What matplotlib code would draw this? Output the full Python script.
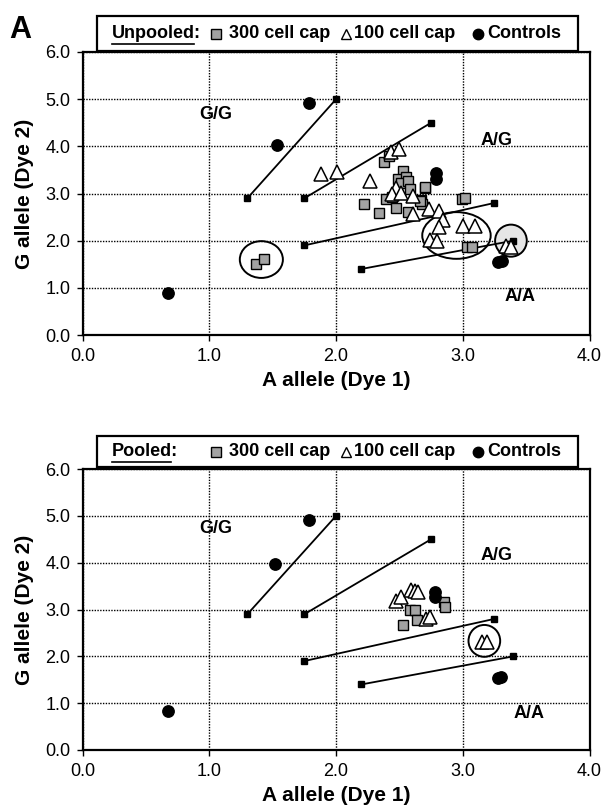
import matplotlib
matplotlib.use("Agg")
import matplotlib.pyplot as plt
from matplotlib.patches import Ellipse, Rectangle
from matplotlib.lines import Line2D

plt.rcParams['font.family'] = ['Liberation Sans', 'DejaVu Sans']

# ---------------- data ----------------
# calibration lines (shared by both panels): start / end points
line_x0 = [1.30, 1.75, 1.75, 2.20]
line_y0 = [2.90, 2.90, 1.90, 1.40]
line_x1 = [2.00, 2.75, 3.25, 3.40]
line_y1 = [5.00, 4.50, 2.80, 2.00]

# Unpooled panel
un_sq_x = [2.38, 2.42, 2.53, 2.49, 2.55, 2.51, 2.57, 2.58, 2.70, 2.39, 2.44, 2.22, 2.34,
           2.47, 2.57, 2.67, 2.68, 2.66, 2.70, 2.99, 3.02, 3.03, 3.07, 1.37, 1.43]
un_sq_y = [3.67, 3.80, 3.48, 3.31, 3.34, 3.22, 3.27, 3.09, 3.11, 2.88, 2.92, 2.78, 2.58,
           2.70, 2.61, 2.87, 2.78, 2.85, 3.13, 2.88, 2.91, 1.86, 1.87, 1.51, 1.62]
un_tr_x = [1.88, 2.01, 2.27, 2.43, 2.50, 2.47, 2.44, 2.51, 2.61, 2.61, 2.73, 2.81, 2.84,
           2.81, 2.74, 2.80, 3.00, 3.10, 3.34, 3.38]
un_tr_y = [3.41, 3.46, 3.27, 3.88, 3.94, 3.12, 2.99, 3.02, 2.95, 2.57, 2.67, 2.62, 2.43,
           2.29, 2.02, 1.99, 2.32, 2.32, 1.88, 1.87]
un_ct_x = [1.79, 1.53, 2.79, 2.79, 3.28, 3.31, 0.67]
un_ct_y = [4.92, 4.02, 3.44, 3.30, 1.55, 1.57, 0.88]

# Pooled panel
po_sq_x = [2.58, 2.62, 2.64, 2.53, 2.85, 2.86]
po_sq_y = [2.99, 2.98, 2.77, 2.67, 3.17, 3.06]
po_tr_x = [2.47, 2.51, 2.59, 2.62, 2.65, 2.71, 2.74, 3.15, 3.19]
po_tr_y = [3.19, 3.26, 3.42, 3.40, 3.37, 2.80, 2.83, 2.30, 2.30]
po_ct_x = [1.79, 1.52, 0.67, 2.78, 2.78, 3.28, 3.30]
po_ct_y = [4.91, 3.98, 0.83, 3.38, 3.27, 1.54, 1.56]

ticks = [0.0, 1.0, 2.0, 3.0, 4.0, 5.0, 6.0]
region_labels = ["G/G", "A/G", "A/A"]
un_lab_x = [1.05, 3.27, 3.45]
un_lab_y = [4.68, 4.13, 0.82]
po_lab_x = [1.05, 3.27, 3.52]
po_lab_y = [4.72, 4.15, 0.78]

legend_items = ["300 cell cap", "100 cell cap", "Controls"]

# ---------------- figure ----------------
W, H = 604, 810
fig = plt.figure(figsize=(W / 100, H / 100), dpi=100)
fig.patch.set_facecolor('white')


def fx(x):
    return x / W


def fy(y):
    return 1 - y / H


SQ_FC = '#a3a3a3'


def panel(top, bottom, sx, sy, tx, ty, cx, cy, lx, ly, ellipses):
    ax = fig.add_axes([fx(82.7), fy(bottom), (589.5 - 82.7) / W, (bottom - top) / H])
    ax.set_xlim(0, 4)
    ax.set_ylim(0, 6)
    ax.set_xticks(ticks[:5])
    ax.set_yticks(ticks)
    ax.set_xticklabels([f"{t:.1f}" for t in ticks[:5]], fontsize=13)
    ax.set_yticklabels([f"{t:.1f}" for t in ticks], fontsize=13)
    ax.tick_params(direction='out', length=4, width=1, pad=5)
    ax.grid(True, color='black', linestyle=(0, (1, 1)), linewidth=1)
    ax.set_axisbelow(True)
    for s in ax.spines.values():
        s.set_linewidth(1.6)
    ax.set_xlabel("A allele (Dye 1)", fontsize=15, fontweight='bold', labelpad=5)
    ax.set_ylabel("G allele (Dye 2)", fontsize=15, fontweight='bold', labelpad=8)

    for (ex, ey, ew, eh, fc) in ellipses:
        ax.add_patch(Ellipse((ex, ey), ew, eh, facecolor=fc, edgecolor='black',
                             linewidth=1.4, zorder=2))
    for x0, y0, x1, y1 in zip(line_x0, line_y0, line_x1, line_y1):
        ax.plot([x0, x1], [y0, y1], color='black', linewidth=1.3, marker='s',
                markersize=4.8, zorder=3)
    ax.plot(sx, sy, linestyle='none', marker='s', markersize=7.5, markerfacecolor=SQ_FC,
            markeredgecolor='black', markeredgewidth=1, zorder=4)
    ax.plot(tx, ty, linestyle='none', marker='^', markersize=9.5, markerfacecolor='white',
            markeredgecolor='black', markeredgewidth=1.1, zorder=5)
    ax.plot(cx, cy, linestyle='none', marker='o', markersize=8.2, markerfacecolor='black',
            markeredgecolor='black', zorder=6)
    for lab, x, y in zip(region_labels, lx, ly):
        ax.text(x, y, lab, fontsize=13, fontweight='bold', ha='center', va='center', zorder=7)
    return ax


un_ell = [(2.95, 2.11, 0.54, 0.99, 'none'),
          (3.38, 2.00, 0.25, 0.68, '#e6e6e6'),
          (1.41, 1.60, 0.34, 0.78, 'none')]
po_ell = [(3.17, 2.33, 0.25, 0.68, 'none')]

panel(52, 335, un_sq_x, un_sq_y, un_tr_x, un_tr_y, un_ct_x, un_ct_y, un_lab_x, un_lab_y, un_ell)
panel(469, 750, po_sq_x, po_sq_y, po_tr_x, po_tr_y, po_ct_x, po_ct_y, po_lab_x, po_lab_y, po_ell)

fig.text(fx(9), fy(30), "A", fontsize=22, fontweight='bold', ha='left', va='center')

renderer = fig.canvas.get_renderer()


def legend_box(title, top, bottom):
    rect = Rectangle((fx(97), fy(bottom)), (578 - 97) / W, (bottom - top) / H,
                     transform=fig.transFigure, facecolor='white', edgecolor='black',
                     linewidth=1.6, zorder=10)
    fig.add_artist(rect)
    yc = (top + bottom) / 2
    # measure width of the underlined word only
    tmp = fig.text(fx(112), fy(yc), title, fontsize=13, fontweight='bold',
                   ha='left', va='center')
    bb = tmp.get_window_extent(renderer)
    tmp.remove()
    fig.text(fx(112), fy(yc), title + ":", fontsize=13, fontweight='bold',
             ha='left', va='center', zorder=11)
    fig.add_artist(Line2D([bb.x0 / W, (bb.x1 - 1) / W], [(bb.y0 - 1.5) / H] * 2,
                          transform=fig.transFigure, color='black', linewidth=1.2, zorder=11))
    mk = [('s', 216, SQ_FC, 7), ('^', 346, 'white', 7), ('o', 478, 'black', 7.5)]
    txt_x = [229, 354, 487]
    for (m, mx, fc, ms), lab, tx in zip(mk, legend_items, txt_x):
        fig.add_artist(Line2D([fx(mx)], [fy(yc)], transform=fig.transFigure, marker=m,
                              markersize=ms, markerfacecolor=fc, markeredgecolor='black',
                              markeredgewidth=1, linestyle='none', zorder=11))
        fig.text(fx(tx), fy(yc), lab, fontsize=13, fontweight='bold', ha='left',
                 va='center', zorder=11)


legend_box("Unpooled", 16, 51)
legend_box("Pooled", 436, 467)

fig.savefig("out.png", dpi=100, facecolor='white')
